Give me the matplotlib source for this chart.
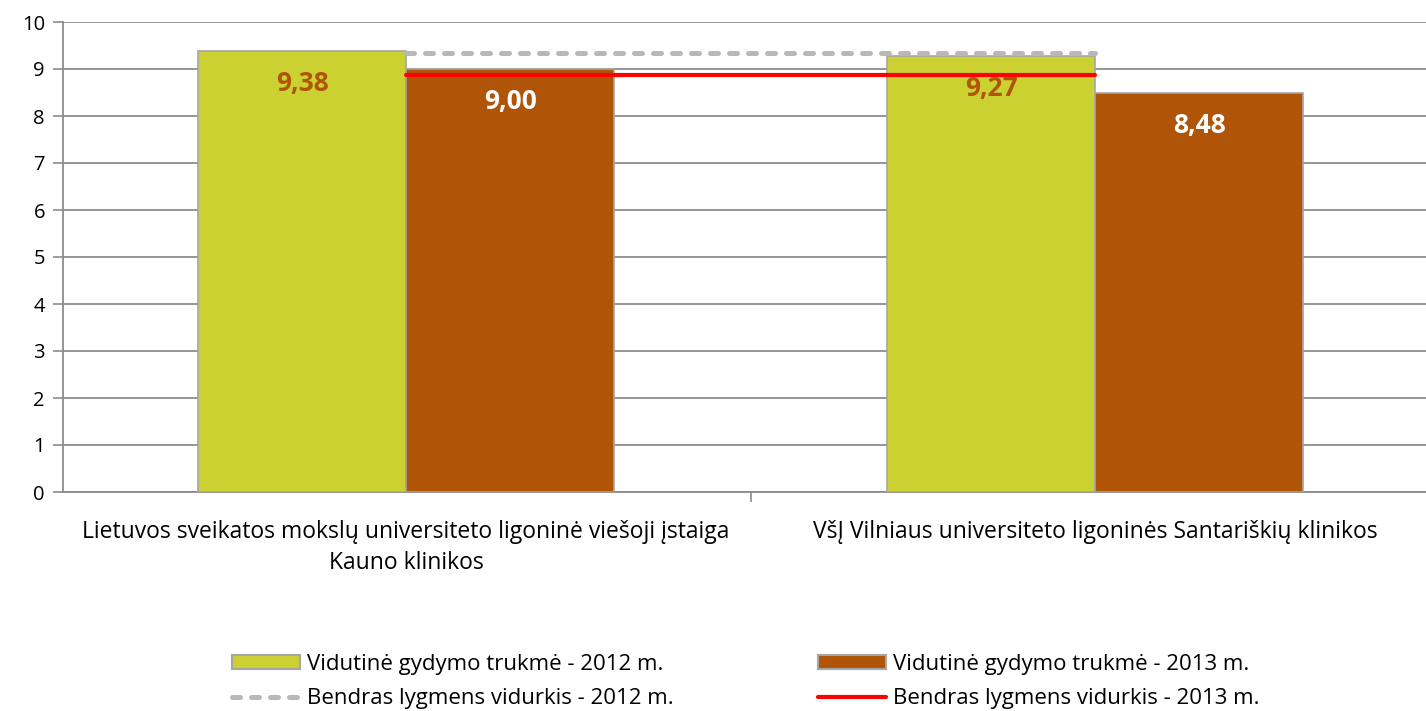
import matplotlib
matplotlib.use("Agg")
import matplotlib.pyplot as plt
from matplotlib.patches import Patch
from matplotlib.lines import Line2D
import numpy as np

categories = ["Lietuvos sveikatos mokslų universiteto ligoninė viešoji įstaiga\nKauno klinikos",
              "VšĮ Vilniaus universiteto ligoninės Santariškių klinikos"]
values_2012 = [9.38, 9.27]
values_2013 = [9.00, 8.48]
avg_2012 = 9.35
avg_2013 = 8.88
labels_2012 = ["9,38", "9,27"]
labels_2013 = ["9,00", "8,48"]
series_names = ["Vidutinė gydymo trukmė - 2012 m.", "Vidutinė gydymo trukmė - 2013 m.",
                "Bendras lygmens vidurkis - 2012 m.", "Bendras lygmens vidurkis - 2013 m."]

plt.rcParams['font.family'] = ['Open Sans', 'DejaVu Sans']

green = "#CBD130"
brown = "#B05508"
grid_c = "#8C8C8C"

fig = plt.figure(figsize=(14.26, 7.11), dpi=100)
ax = fig.add_axes([63/1426, 1-492/711, 1-63/1426, (492-22)/711])

x = np.arange(len(categories))
w = 0.302
ax.bar(x - w/2, values_2012, width=w, color=green, edgecolor="#A6A6A6", linewidth=1.2, zorder=3)
ax.bar(x + w/2, values_2013, width=w, color=brown, edgecolor="#A6A6A6", linewidth=1.2, zorder=3)

ax.plot([x[0], x[-1]], [avg_2012, avg_2012], color="#B8B8B8", lw=3.6, dashes=(1.6, 2.2),
        dash_capstyle="round", zorder=4)
ax.plot([x[0], x[-1]], [avg_2013, avg_2013], color="#FF0000", lw=3.0, zorder=5,
        solid_capstyle="round")

for i in range(len(categories)):
    ax.annotate(labels_2012[i], (x[i] - w/2, values_2012[i]), xytext=(0, -32),
                textcoords="offset pixels", ha="center", va="center",
                fontsize=19, fontweight="bold", color=brown, zorder=6)
    ax.annotate(labels_2013[i], (x[i] + w/2, values_2013[i]), xytext=(0, -32),
                textcoords="offset pixels", ha="center", va="center",
                fontsize=19, fontweight="bold", color="white", zorder=6)

ax.set_yticks(range(0, 11))
ax.set_xticks(x)
ax.set_xticklabels(categories, fontsize=16.5, linespacing=1.4)
ax.set_xticks([-0.5, 0.5, 1.5], minor=True)
ax.set_ylim(0, 10)
ax.set_xlim(-0.498, 1.480)
ax.tick_params(axis="x", which="major", length=0, pad=20)
ax.tick_params(axis="x", which="minor", length=7, color=grid_c, width=1.2)
ax.tick_params(axis="y", length=7, color=grid_c, width=1.2, labelsize=14.5, pad=6)

ax.yaxis.grid(True, color=grid_c, lw=1.3, zorder=0)
ax.set_axisbelow(True)
for s in ["top", "right"]:
    ax.spines[s].set_visible(False)
for s in ["left", "bottom"]:
    ax.spines[s].set_color(grid_c)
    ax.spines[s].set_linewidth(1.3)

handles = [Patch(facecolor=green, edgecolor="#A6A6A6", linewidth=1.5),
           Line2D([0], [0], color="#B8B8B8", lw=3.6, dashes=(1.6, 2.2), dash_capstyle="round"),
           Patch(facecolor=brown, edgecolor="#A6A6A6", linewidth=1.5),
           Line2D([0], [0], color="#FF0000", lw=3.0, solid_capstyle="round")]
labs = [series_names[0], series_names[2], series_names[1], series_names[3]]
fs = 16
fig.legend(handles, labs, ncol=2, loc="center left", bbox_to_anchor=(232/1426, 1-681.5/711),
           frameon=False, fontsize=fs, handlelength=3.06, handleheight=0.63,
           columnspacing=6.5, labelspacing=0.6, handletextpad=0.32, borderpad=0,
           borderaxespad=0)

fig.savefig("out.png", dpi=100)
